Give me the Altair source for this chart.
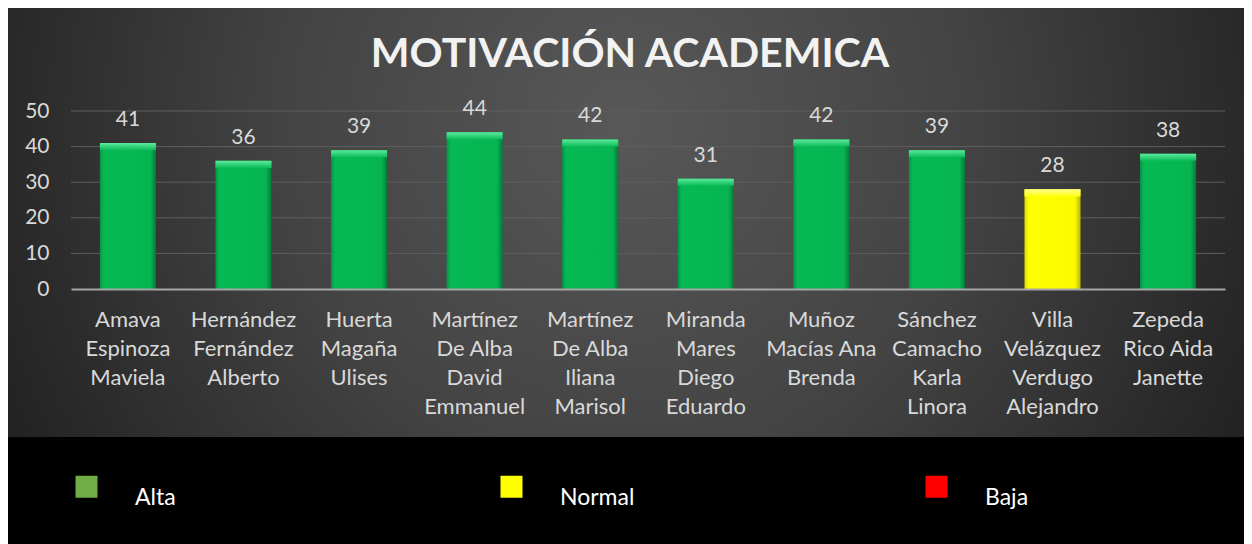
import altair as alt
import pandas as pd

# ---- data ----
nombres = [
    "Amava\nEspinoza\nMaviela",
    "Hernández\nFernández\nAlberto",
    "Huerta\nMagaña\nUlises",
    "Martínez\nDe Alba\nDavid\nEmmanuel",
    "Martínez\nDe Alba\nIliana\nMarisol",
    "Miranda\nMares\nDiego\nEduardo",
    "Muñoz\nMacías Ana\nBrenda",
    "Sánchez\nCamacho\nKarla\nLinora",
    "Villa\nVelázquez\nVerdugo\nAlejandro",
    "Zepeda\nRico Aida\nJanette",
]
puntajes = [41, 36, 39, 44, 42, 31, 42, 39, 28, 38]
niveles = ["Alta", "Alta", "Alta", "Alta", "Alta", "Alta", "Alta", "Alta", "Normal", "Alta"]
y_ticks = [0, 10, 20, 30, 40, 50]
grid_values = [10, 20, 30, 40, 50]
leyenda_labels = ["Alta", "Normal", "Baja"]
leyenda_colores = ["#70AD47", "#FFFF00", "#FF0000"]

df = pd.DataFrame({"nombre": nombres, "puntaje": puntajes, "nivel": niveles})
df_grid = pd.DataFrame({"puntaje": grid_values})
df_leg = pd.DataFrame({"nivel": leyenda_labels})
df_bg = pd.DataFrame({"k": [0]})

FONT = "Lato"
W, H = 1154, 178
PL, PT = 63, 103
TOTAL_W, TOTAL_H = 1236, 536

x_enc = alt.X(
    "nombre:N",
    sort=nombres,
    scale=alt.Scale(domain=nombres, paddingInner=0.515, paddingOuter=0.25),
    axis=alt.Axis(
        title=None,
        labelAngle=0,
        labelExpr="split(datum.label, '\\n')",
        labelColor="#d9d9d9",
        labelFont=FONT,
        labelFontSize=22,
        labelLineHeight=29,
        labelPadding=20,
        labelBaseline="top",
        ticks=False,
        tickSize=0,
        domainColor="#a6a6a6",
        domainWidth=2,
        grid=False,
        zindex=1,
        labelLimit=300,
    ),
)
y_scale = alt.Scale(domain=[0, 50], nice=False, zero=True)
y_axis = alt.Axis(
    title=None,
    values=y_ticks,
    labelColor="#d9d9d9",
    labelFont=FONT,
    labelFontSize=21,
    labelPadding=22,
    ticks=False,
    tickSize=0,
    domain=False,
    grid=False,
    zindex=1,
)
y_enc = alt.Y("puntaje:Q", scale=y_scale, axis=y_axis)

# hidden layer (covered by the background) that only provides the legend
legend_layer = alt.Chart(df_leg).mark_square(size=10).encode(
    fill=alt.Fill(
        "nivel:N",
        scale=alt.Scale(domain=leyenda_labels, range=leyenda_colores),
        legend=alt.Legend(
            title=None,
            orient="none",
            direction="horizontal",
            legendX=4,
            legendY=364,
            columns=3,
            gridAlign="all",
            columnPadding=290,
            symbolType="square",
            symbolSize=484,
            symbolStrokeWidth=0,
            symbolOpacity=1,
            labelColor="#ffffff",
            labelFont=FONT,
            labelFontSize=23,
            labelOffset=37,
            labelBaseline="top",
            padding=0,
        ),
    )
)

bg = alt.Chart(df_bg).mark_rect(
    fill=alt.RadialGradient(
        gradient="radial",
        x1=0.5, y1=0.42, r1=0,
        x2=0.5, y2=0.42, r2=0.56,
        stops=[
            alt.GradientStop(offset=0, color="#585858"),
            alt.GradientStop(offset=0.5, color="#434343"),
            alt.GradientStop(offset=1, color="#222222"),
        ],
    ),
    clip=False,
).encode(
    x=alt.value(-PL),
    x2=alt.value(TOTAL_W - PL),
    y=alt.value(-PT),
    y2=alt.value(326),
)

grid = alt.Chart(df_grid).mark_rule(color="#5e5e5e", strokeWidth=1).encode(
    y=alt.Y("puntaje:Q", scale=y_scale, axis=y_axis)
)

green_face = alt.LinearGradient(
    gradient="linear", x1=0, y1=0, x2=1, y2=0,
    stops=[
        alt.GradientStop(offset=0, color="#039447"),
        alt.GradientStop(offset=0.07, color="#07b955"),
        alt.GradientStop(offset=0.9, color="#06b552"),
        alt.GradientStop(offset=1, color="#037a37"),
    ],
)
yellow_face = alt.LinearGradient(
    gradient="linear", x1=0, y1=0, x2=1, y2=0,
    stops=[
        alt.GradientStop(offset=0, color="#d8d800"),
        alt.GradientStop(offset=0.07, color="#ffff00"),
        alt.GradientStop(offset=0.9, color="#fbfb00"),
        alt.GradientStop(offset=1, color="#b8b800"),
    ],
)
green_cap = alt.LinearGradient(
    gradient="linear", x1=0, y1=0, x2=0, y2=1,
    stops=[
        alt.GradientStop(offset=0, color="#5cea9c"),
        alt.GradientStop(offset=1, color="#0bbb58"),
    ],
)
yellow_cap = alt.LinearGradient(
    gradient="linear", x1=0, y1=0, x2=0, y2=1,
    stops=[
        alt.GradientStop(offset=0, color="#ffff8a"),
        alt.GradientStop(offset=1, color="#ffff10"),
    ],
)

base = alt.Chart(df)

bars_alta = base.transform_filter("datum.nivel == 'Alta'").mark_bar(fill=green_face).encode(
    x=x_enc, y=y_enc
)
bars_normal = base.transform_filter("datum.nivel == 'Normal'").mark_bar(fill=yellow_face).encode(
    x=x_enc, y=y_enc
)
caps_alta = base.transform_filter("datum.nivel == 'Alta'").transform_calculate(
    cap="datum.puntaje - 2"
).mark_bar(fill=green_cap).encode(x=x_enc, y=y_enc, y2="cap:Q")
caps_normal = base.transform_filter("datum.nivel == 'Normal'").transform_calculate(
    cap="datum.puntaje - 2"
).mark_bar(fill=yellow_cap).encode(x=x_enc, y=y_enc, y2="cap:Q")

labels = base.mark_text(
    font=FONT, fontSize=21, color="#d9d9d9", baseline="alphabetic", dy=-17
).encode(x=x_enc, y=y_enc, text="puntaje:Q")

chart = alt.layer(
    legend_layer, bg, grid, bars_alta, bars_normal, caps_alta, caps_normal, labels
).properties(
    width=W,
    height=H,
    padding={"left": PL, "top": PT, "right": TOTAL_W - PL - W, "bottom": TOTAL_H - PT - H},
    autosize=alt.AutoSizeParams(type="none"),
    background="#000000",
    title=alt.TitleParams(
        text="MOTIVACIÓN ACADEMICA",
        font=FONT,
        fontSize=41,
        fontWeight="bold",
        color="#f2f2f2",
        anchor="middle",
        frame="group",
        baseline="bottom",
        dx=-18,
        offset=-109,
    ),
).configure_view(stroke=None)

chart.save("out.html", embed_options={"renderer": "svg", "actions": False})
